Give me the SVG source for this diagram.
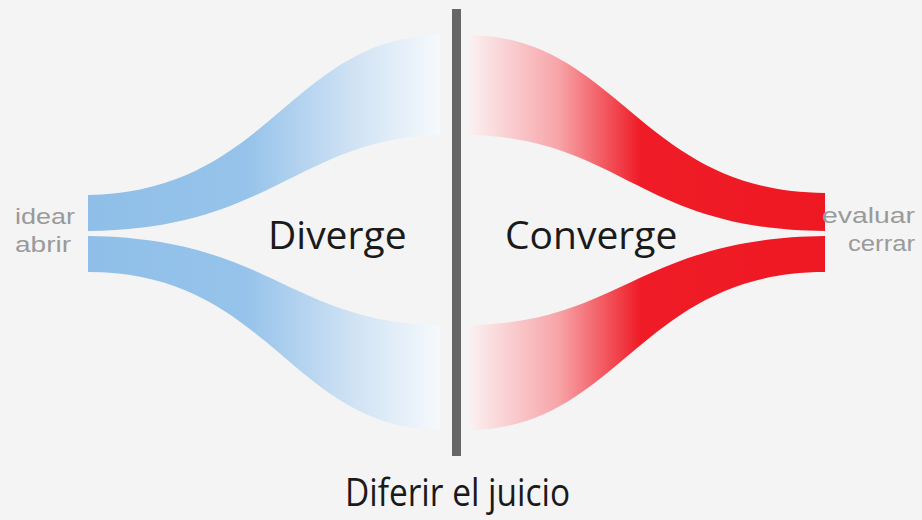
<svg xmlns="http://www.w3.org/2000/svg" width="922" height="520" viewBox="0 0 922 520">
<defs>
<linearGradient id="gBlue" gradientUnits="userSpaceOnUse" x1="88" y1="0" x2="440" y2="0">
<stop offset="0" stop-color="#8fbfe8"/>
<stop offset="0.45" stop-color="#96c3ea"/>
<stop offset="0.75" stop-color="#cfe2f4"/>
<stop offset="1" stop-color="#f6f9fc"/>
</linearGradient>
<linearGradient id="gRed" gradientUnits="userSpaceOnUse" x1="470" y1="0" x2="825" y2="0">
<stop offset="0" stop-color="#fbf0f1"/>
<stop offset="0.25" stop-color="#f7a4a8"/>
<stop offset="0.48" stop-color="#ef1c27"/>
<stop offset="1" stop-color="#ee1822"/>
</linearGradient>
</defs>
<style>
.lbl{font-family:"Liberation Sans",Arial,sans-serif;fill:#9a9a9a;font-size:22px}
.big{font-family:"Open Sans","Liberation Sans",sans-serif;fill:#1a1a1a;font-size:39px}
</style>
<rect width="922" height="520" fill="#f4f4f4"/>
<g id="diverge-upper"><path d="M88,195 C270,192 290,38 440,35 L440,135 C300,138 270,230 88,231 Z" fill="url(#gBlue)"/></g>
<g id="diverge-lower"><path d="M88,236 C270,238 290,323 440,325 L440,430 C290,428 270,272 88,272 Z" fill="url(#gBlue)"/></g>
<g id="converge-upper"><path d="M470,35 C620,38 640,192 825,193 L825,231 C640,230 620,138 470,135 Z" fill="url(#gRed)"/></g>
<g id="converge-lower"><path d="M470,325 C620,323 640,238 825,236 L825,272 C640,272 620,428 470,430 Z" fill="url(#gRed)"/></g>
<g id="divider"><rect x="452" y="9" width="9" height="447" fill="#666"/></g>
<g id="labels">
<text class="lbl" x="15" y="224" textLength="60" lengthAdjust="spacingAndGlyphs">idear</text>
<text class="lbl" x="15" y="252" textLength="56" lengthAdjust="spacingAndGlyphs">abrir</text>
<text class="lbl" x="822" y="223" textLength="93" lengthAdjust="spacingAndGlyphs">evaluar</text>
<text class="lbl" x="848" y="251" textLength="67" lengthAdjust="spacingAndGlyphs">cerrar</text>
<text class="big" x="268" y="249">Diverge</text>
<text class="big" x="505" y="249">Converge</text>
<text class="big" x="345" y="506" font-size="33" textLength="225" lengthAdjust="spacingAndGlyphs">Diferir el juicio</text>
</g>
</svg>
